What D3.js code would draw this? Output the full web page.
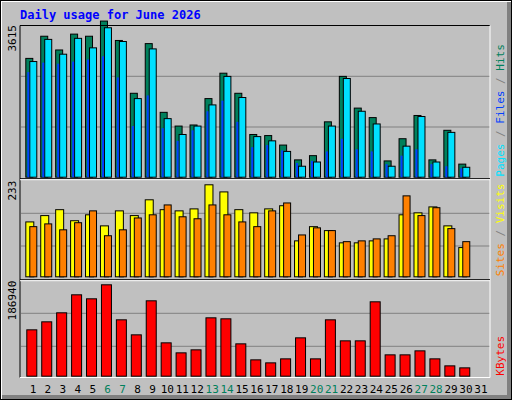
<!DOCTYPE html>
<html lang="en">
<head>
<meta charset="UTF-8">
<title>Daily usage for June 2026</title>
<script src="https://d3js.org/d3.v7.min.js"></script>
<style>
  body { margin: 0; background: #fff; }
  text { font-family: "DejaVu Sans Mono", monospace; }
</style>
</head>
<body>
<svg id="chart" width="512" height="400"></svg>
<script>
const days = d3.range(1, 32);
const weekends = [6, 7, 13, 14, 20, 21, 27, 28];

// top panel (green back bar, cyan bar, narrow blue bar)
const hits  = [2751,3264,2946,3313,3264,3615,3166,1943,3093,1502,1184,1209,1820,2408,1943,989,964,744,401,499,1282,2334,1600,1380,377,891,1429,401,1086,303];
const files = [2678,3191,2848,3215,2995,3460,3142,1820,2971,1356,989,1184,1674,2334,1845,940,842,597,254,352,1184,2285,1527,1233,254,719,1405,352,1038,230];
const pages = [2433,2652,2628,2677,2726,2799,2310,1184,1894,1135,842,1086,1527,1772,1282,695,744,622,328,377,597,891,646,597,303,499,646,303,254,206];

// middle panel
const visits = [139,155,170,142,157,129,167,155,195,170,167,172,233,215,170,162,172,180,91,127,117,86,86,91,96,157,162,177,129,74];
const sites  = [127,134,119,137,167,104,119,149,157,182,152,147,182,157,139,127,167,187,106,124,117,89,91,96,104,205,155,175,122,89];

// bottom panel
const kbytes = [94840,111210,129640,166480,158290,186940,115310,84600,154200,68230,47760,53900,119400,117360,66180,33430,27290,35480,78460,35480,115310,72320,72320,152150,43670,43670,51850,35480,21150,17060];

const C = { hits: "#00805C", files: "#00E0FF", pages: "#0040FF", visits: "#FFFF00", sites: "#FF8000", kb: "#FF0000" };

const svg = d3.select("#chart");

// frame
svg.append("rect").attr("x", 0).attr("y", 0).attr("width", 512).attr("height", 400).attr("fill", "#000");
svg.append("rect").attr("x", 1).attr("y", 1).attr("width", 510).attr("height", 398).attr("fill", "#fff");
svg.append("rect").attr("x", 2).attr("y", 2).attr("width", 509).attr("height", 397).attr("fill", "#808080");
svg.append("rect").attr("x", 2).attr("y", 2).attr("width", 505).attr("height", 393).attr("fill", "#C0C0C0");

svg.append("text").attr("x", 20).attr("y", 19).attr("fill", "#0000FF")
  .attr("font-size", 12).attr("font-weight", "bold").text("Daily usage for June 2026");

const left = 20, right = 490;
const x = d3.scaleLinear().domain([1, 31]).range([25.3, 25.3 + 30 * 14.93]);

function panel(top, bottom, max, grid, series, labels, maxLabel) {
  const y = d3.scaleLinear().domain([0, max]).range([bottom, top]);
  grid.forEach(g => svg.append("line").attr("x1", left + 1).attr("x2", right)
    .attr("y1", g).attr("y2", g).attr("stroke", "#808080"));
  series.forEach(s => {
    svg.append("g").selectAll("rect").data(s.values).join("rect")
      .attr("x", (d, i) => x(i + 1) + s.dx + 0.5)
      .attr("y", d => y(d) + 0.5)
      .attr("width", s.w)
      .attr("height", d => bottom - y(d))
      .attr("fill", s.color)
      .attr("stroke", s.stroke ? "#000" : "none");
  });
  svg.append("text").attr("transform", `translate(${left - 4},${y(max)}) rotate(-90)`)
    .attr("text-anchor", "end").attr("font-size", 11).text(maxLabel);
  const t = svg.append("text").attr("transform", `translate(${right + 14},${bottom}) rotate(-90)`)
    .attr("font-size", 11);
  labels.forEach((l, i) => {
    if (i) t.append("tspan").attr("fill", "#808080").text(" / ");
    t.append("tspan").attr("fill", l[1]).text(l[0]);
  });
}

panel(25, 176.7, 3615 * 147.4 / 151.7, [76.3, 127],
  [{ values: hits, dx: 0, w: 7, color: C.hits, stroke: true },
   { values: files, dx: 4, w: 7, color: C.files, stroke: true },
   { values: pages, dx: 1.5, w: 2, color: C.pages, stroke: false }],
  [["Pages", C.files], ["Files", C.pages], ["Hits", C.hits]], "3615");

panel(180.7, 276.3, 233 * 95.6 / 92, [213.3, 246],
  [{ values: visits, dx: 0, w: 8, color: C.visits, stroke: true },
   { values: sites, dx: 4, w: 7, color: C.sites, stroke: true }],
  [["Sites", C.sites], ["Visits", C.visits]], "233");

panel(280.7, 375.7, 186940 * 95 / 91.4, [313.3, 346.3],
  [{ values: kbytes, dx: 1, w: 10, color: C.kb, stroke: true }],
  [["KBytes", C.kb]], "186940");

// redraw max labels at proper heights already handled; plot borders
svg.append("path").attr("d", `M${left},377.5V25.5H${right}`).attr("fill", "none").attr("stroke", "#000");
svg.append("path").attr("d", `M${right},25.5V377.5H${left}`).attr("fill", "none").attr("stroke", "#fff");
[178.7, 279.7].forEach(s => {
  svg.append("line").attr("x1", left).attr("x2", right).attr("y1", s).attr("y2", s).attr("stroke", "#000");
  svg.append("line").attr("x1", left).attr("x2", right).attr("y1", s + 1).attr("y2", s + 1).attr("stroke", "#fff");
});

svg.append("g").selectAll("text").data(days).join("text")
  .attr("x", d => x(d) + 7.7).attr("y", 393)
  .attr("text-anchor", "middle").attr("font-size", 11)
  .attr("fill", d => weekends.includes(d) ? "#00805C" : "#000")
  .text(d => d);
</script>
</body>
</html>
